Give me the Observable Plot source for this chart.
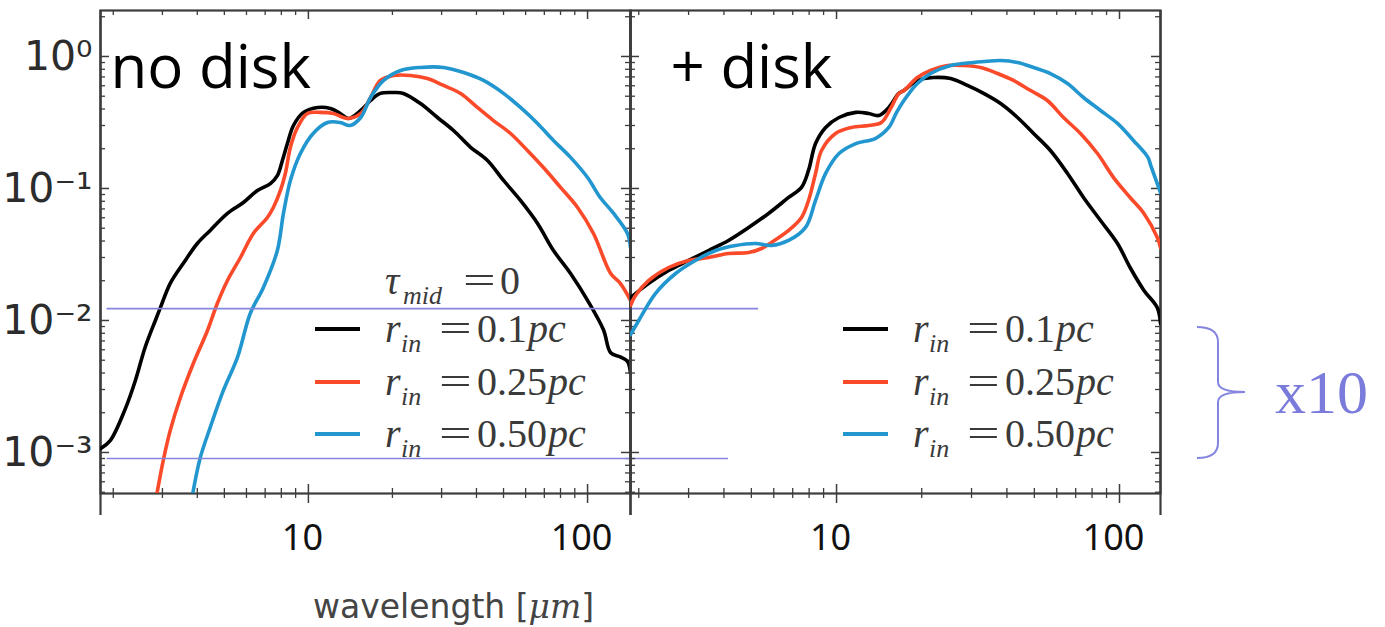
<!DOCTYPE html>
<html><head><meta charset="utf-8">
<script src="https://cdn.jsdelivr.net/npm/d3@7"></script>
<script src="https://cdn.jsdelivr.net/npm/@observablehq/plot@0.6"></script>
<style>
body{margin:0;background:#fff;}
#wrap{position:relative;width:1385px;height:627px;overflow:hidden;background:#fff;}
#wrap > svg{position:absolute;top:0;}
.lp{position:absolute;font-family:"Liberation Serif",serif;color:#3a3a3a;white-space:nowrap;}
.sw{position:absolute;height:4px;width:45px;}
#xlab{position:absolute;left:313px;top:590px;font-family:"DejaVu Sans",sans-serif;font-size:33px;line-height:33px;color:#444;white-space:nowrap;}
#xlab i{font-family:"DejaVu Serif",serif;}
#x10{position:absolute;left:1275px;top:361px;font-family:"Liberation Serif",serif;font-size:62px;line-height:62px;color:#7b7bdc;}
</style></head>
<body><div id="wrap"></div>
<script>
// ---- data (wavelength in micron, normalized flux) ----
const noDisk_r010 = [[1.8,0.00107],[1.95,0.00123],[2.21,0.00215],[2.40,0.00351],[2.60,0.00624],[2.83,0.0100],[2.95,0.0125],[3.20,0.0191],[3.56,0.0270],[4.00,0.0383],[4.45,0.0481],[5.13,0.0647],[5.85,0.0783],[6.57,0.0966],[7.31,0.109],[7.74,0.125],[8.07,0.163],[8.41,0.219],[8.84,0.300],[9.60,0.377],[10.8,0.411],[12.0,0.404],[13.0,0.370],[13.9,0.339],[15.4,0.390],[16.7,0.464],[18.1,0.525],[20.2,0.533],[21.9,0.525],[25.2,0.440],[29.0,0.345],[33.1,0.275],[38.1,0.205],[43.8,0.163],[50.0,0.115],[57.5,0.0811],[66.2,0.0543],[75.5,0.0339],[86.9,0.0227],[100,0.0142],[114,0.0085],[121,0.0057],[131,0.0053],[139,0.0049],[142.5,0.0040]];
const noDisk_r025 = [[2.72,0.00026],[2.88,0.000515],[3.02,0.000869],[3.20,0.00147],[3.48,0.00261],[3.87,0.00472],[4.35,0.0084],[4.72,0.0135],[5.13,0.0201],[5.71,0.0300],[6.35,0.0456],[7.13,0.0603],[7.49,0.0718],[7.94,0.0966],[8.27,0.130],[8.62,0.205],[9.14,0.290],[9.92,0.370],[11.0,0.377],[12.3,0.370],[13.8,0.339],[15.4,0.370],[16.7,0.489],[18.1,0.658],[20.2,0.718],[23.2,0.718],[26.7,0.681],[30.5,0.603],[35.1,0.525],[40.3,0.411],[46.0,0.327],[53.0,0.261],[60.9,0.194],[69.5,0.144],[80.0,0.102],[92.1,0.0718],[105,0.0456],[121,0.0227],[131,0.0191],[142.5,0.0142]];
const noDisk_r050 = [[3.68,0.00026],[3.87,0.000515],[4.10,0.000917],[4.45,0.00155],[4.96,0.00295],[5.57,0.00525],[6.19,0.0113],[6.90,0.0178],[7.74,0.0339],[8.14,0.0647],[8.62,0.115],[9.36,0.184],[10.4,0.261],[11.7,0.316],[13.0,0.316],[14.1,0.300],[15.4,0.345],[16.7,0.489],[18.6,0.658],[21.4,0.783],[25.2,0.826],[30.5,0.826],[36.0,0.756],[42.4,0.658],[50.0,0.525],[57.5,0.411],[66.2,0.311],[75.5,0.231],[86.9,0.172],[100,0.121],[111,0.0855],[124,0.0647],[139,0.0456],[142.5,0.0357]];
const disk_r010 = [[1.87,0.0149],[2.17,0.0191],[2.55,0.0239],[3.00,0.0285],[3.53,0.0339],[4.15,0.0404],[4.89,0.0507],[5.75,0.0647],[6.77,0.0855],[7.52,0.102],[7.96,0.137],[8.43,0.219],[9.15,0.290],[10.2,0.345],[11.7,0.377],[13.0,0.370],[14.1,0.357],[15.3,0.411],[16.6,0.525],[17.3,0.552],[19.3,0.658],[22.0,0.693],[25.3,0.681],[29.0,0.603],[33.1,0.525],[38.0,0.440],[43.6,0.345],[49.7,0.261],[57.0,0.194],[65.5,0.130],[74.6,0.0855],[85.7,0.0572],[98.4,0.0383],[109,0.0252],[122,0.0169],[136,0.0125],[139.6,0.0095]];
const disk_r025 = [[1.87,0.0130],[1.95,0.0155],[2.17,0.0201],[2.55,0.0252],[3.00,0.0285],[3.53,0.0300],[4.15,0.0322],[4.89,0.0327],[5.43,0.0351],[5.89,0.0390],[6.77,0.0481],[7.52,0.0603],[7.96,0.0811],[8.43,0.130],[8.85,0.194],[9.92,0.261],[11.3,0.290],[13.0,0.300],[14.4,0.316],[15.6,0.411],[16.6,0.525],[17.3,0.552],[19.3,0.693],[21.5,0.783],[24.7,0.855],[28.1,0.855],[32.3,0.826],[37.1,0.743],[42.2,0.658],[48.5,0.552],[55.6,0.464],[63.4,0.345],[72.8,0.261],[83.6,0.184],[95.3,0.121],[109,0.0855],[122,0.0647],[136,0.0425],[139.6,0.0357]];
const disk_r050 = [[1.87,0.0078],[2.00,0.0100],[2.29,0.0160],[2.70,0.0227],[3.17,0.0285],[3.74,0.0339],[4.40,0.0370],[5.17,0.0383],[5.89,0.0370],[6.77,0.0404],[7.77,0.0507],[8.43,0.0811],[9.15,0.130],[10.2,0.184],[11.7,0.219],[13.7,0.239],[15.3,0.290],[16.3,0.377],[17.3,0.464],[19.3,0.624],[21.5,0.743],[25.3,0.855],[30.5,0.901],[38.0,0.933],[43.6,0.901],[49.7,0.826],[57.0,0.743],[65.5,0.624],[74.6,0.489],[85.7,0.390],[98.4,0.311],[112,0.231],[126,0.172],[129,0.149],[139.6,0.093]];

const seriesColors = ["#000000", "#fb4a2a", "#2196cf"];
const legendValues = ["0.1", "0.25", "0.50"];
const panelTitles = ["no disk", "+ disk"];

const xMajor = [10, 100];
const xTickLabels = ["10", "100"];
const xMinor = [2,3,4,5,6,7,8,9,20,30,40,50,60,70,80,90];
const yMajor = [0.001, 0.01, 0.1, 1];
const yTickLabels = ["10\u207B\u00B3", "10\u207B\u00B2", "10\u207B\u00B9", "10\u2070"];
const yMinor = [5e-4,6e-4,7e-4,8e-4,9e-4,2e-3,3e-3,4e-3,5e-3,6e-3,7e-3,8e-3,9e-3,0.02,0.03,0.04,0.05,0.06,0.07,0.08,0.09,0.2,0.3,0.4,0.5,0.6,0.7,0.8,0.9,2];

// annotation lines (blue, drawn on the left panel, extending right)
const annotY = [0.0123, 0.0009];
const annotX1 = [1.9, 1.9];
const annotX2 = [410, 320];

// ---- layout ----
const H = 627, innerW = 530, innerH = 483, mTop = 10;
const yDomain = [4.89e-4, 2.23];
const axisColor = "#3c3c3c";

function panel({xDomain, series, title, titleDx, marginLeft, marginRight, left}) {
  const width = marginLeft + innerW + marginRight;
  const marks = [
    Plot.frame({stroke: axisColor, strokeWidth: 2.2}),
    Plot.ruleX([xDomain[0], xDomain[1]], {x: d => d, insetBottom: -22, stroke: axisColor, strokeWidth: 2.2}),
    Plot.tickX(xMinor, {x: d => d, insetTop: innerH - 5, insetBottom: -5, stroke: axisColor, strokeWidth: 1.3}),
    Plot.tickX(xMinor, {x: d => d, insetBottom: innerH - 5, stroke: axisColor, strokeWidth: 1.3}),
    Plot.tickX(xMajor, {x: d => d, insetTop: innerH - 9, insetBottom: -10, stroke: axisColor, strokeWidth: 1.5}),
    Plot.tickX(xMajor, {x: d => d, insetBottom: innerH - 9, stroke: axisColor, strokeWidth: 1.5}),
    Plot.tickY(yMinor, {y: d => d, insetRight: innerW - 5, stroke: axisColor, strokeWidth: 1.3}),
    Plot.tickY(yMinor, {y: d => d, insetLeft: innerW - 5, stroke: axisColor, strokeWidth: 1.3}),
    Plot.tickY(yMajor, {y: d => d, insetRight: innerW - 9, stroke: axisColor, strokeWidth: 1.5}),
    Plot.tickY(yMajor, {y: d => d, insetLeft: innerW - 9, stroke: axisColor, strokeWidth: 1.5}),
    Plot.axisX(xMajor, {tickSize: 0, tickPadding: 31, fontSize: 36, fontFamily: "Noto Sans", fill: "#111", dx: -6,
      tickFormat: d => xTickLabels[xMajor.indexOf(d)], label: null})
  ];
  if (left) {
    marks.push(Plot.axisY(yMajor, {tickSize: 0, tickPadding: 8, fontSize: 41, fontFamily: "DejaVu Sans", fill: "#2c2c2c",
      tickFormat: d => yTickLabels[yMajor.indexOf(d)], label: null}));
  }
  series.forEach((s, i) => marks.push(Plot.line(s, {x: d => d[0], y: d => d[1], stroke: seriesColors[i], strokeWidth: 3.6,
    clip: true, curve: "catmull-rom", strokeLinejoin: "round"})));
  if (left) {
    marks.push(Plot.ruleY(annotY, {y: d => d, x1: (d, i) => annotX1[i], x2: (d, i) => annotX2[i], stroke: "#8585e0", strokeWidth: 1.6}));
  }
  marks.push(Plot.text([title], {frameAnchor: "top-left", lineAnchor: "top", textAnchor: "start", dx: titleDx, dy: 35,
    fontSize: 60, fontFamily: "Open Sans", fill: "#000"}));
  return Plot.plot({
    width, height: H, marginLeft, marginRight, marginTop: mTop, marginBottom: H - mTop - innerH,
    style: {background: "transparent", overflow: "visible"},
    x: {type: "log", domain: xDomain, axis: null},
    y: {type: "log", domain: yDomain, axis: null},
    marks
  });
}

const wrap = document.getElementById("wrap");
const leftSvg = panel({xDomain: [1.8, 142.5], series: [noDisk_r010, noDisk_r025, noDisk_r050], title: panelTitles[0], titleDx: 10, marginLeft: 100, marginRight: 0, left: true});
leftSvg.style.left = "0px";
wrap.appendChild(leftSvg);
const rightSvg = panel({xDomain: [1.87, 139.6], series: [disk_r010, disk_r025, disk_r050], title: panelTitles[1], titleDx: 40, marginLeft: 0, marginRight: 10, left: false});
rightSvg.style.left = "630px";
wrap.appendChild(rightSvg);

// ---- legends (absolutely placed text pieces) ----
function piece(text, x, centerY, size, italic, extraStyle) {
  const s = document.createElement("span");
  s.className = "lp";
  s.textContent = text;
  s.style.left = x + "px";
  s.style.fontSize = size + "px";
  s.style.lineHeight = size + "px";
  s.style.top = (centerY - size / 2) + "px";
  if (italic) s.style.fontStyle = "italic";
  if (extraStyle) Object.assign(s.style, extraStyle);
  wrap.appendChild(s);
  return s;
}
function eqSign(x, cy) {
  piece("=", x, cy, 40, false, {transform: "scaleX(1.45)", transformOrigin: "left center"});
}
const rowCenters = [329, 382, 434];
function addLegend(dx) {
  legendValues.forEach((v, i) => {
    const cy = rowCenters[i];
    const sw = document.createElement("div");
    sw.className = "sw";
    sw.style.left = (315 + dx) + "px";
    sw.style.top = (cy - 2) + "px";
    sw.style.background = seriesColors[i];
    wrap.appendChild(sw);
    piece("r", 385 + dx, cy, 40, true);
    piece("in", 401 + dx, cy + 15, 26, true);
    eqSign(439 + dx, cy);
    piece(v, 477 + dx, cy, 40, false);
    piece("pc", 477 + dx + (v.length === 3 ? 51 : 71), cy, 40, true);
  });
}
addLegend(0);
addLegend(528);
piece("\u03C4", 385, 281, 40, true);
piece("mid", 403, 296, 26, true);
eqSign(463, 281);
piece("0", 500, 281, 40, false);

// x label
const xl = document.createElement("div");
xl.id = "xlab";
xl.innerHTML = "wavelength [<i>\u03BCm</i>]";
wrap.appendChild(xl);

// bracket and x10 annotation
const ns = "http://www.w3.org/2000/svg";
const br = document.createElementNS(ns, "svg");
br.setAttribute("width", 1385); br.setAttribute("height", 627);
br.style.position = "absolute"; br.style.left = "0"; br.style.top = "0";
const p = document.createElementNS(ns, "path");
p.setAttribute("d", "M1197,327 Q1218,327 1218,342 L1218,382 Q1218,392 1245,392 Q1218,392 1218,402 L1218,443 Q1218,458 1197,458");
p.setAttribute("fill", "none"); p.setAttribute("stroke", "#8585e0"); p.setAttribute("stroke-width", "2");
br.appendChild(p);
wrap.appendChild(br);
const x10 = document.createElement("div");
x10.id = "x10"; x10.textContent = "x10";
wrap.appendChild(x10);
</script>
</body></html>
